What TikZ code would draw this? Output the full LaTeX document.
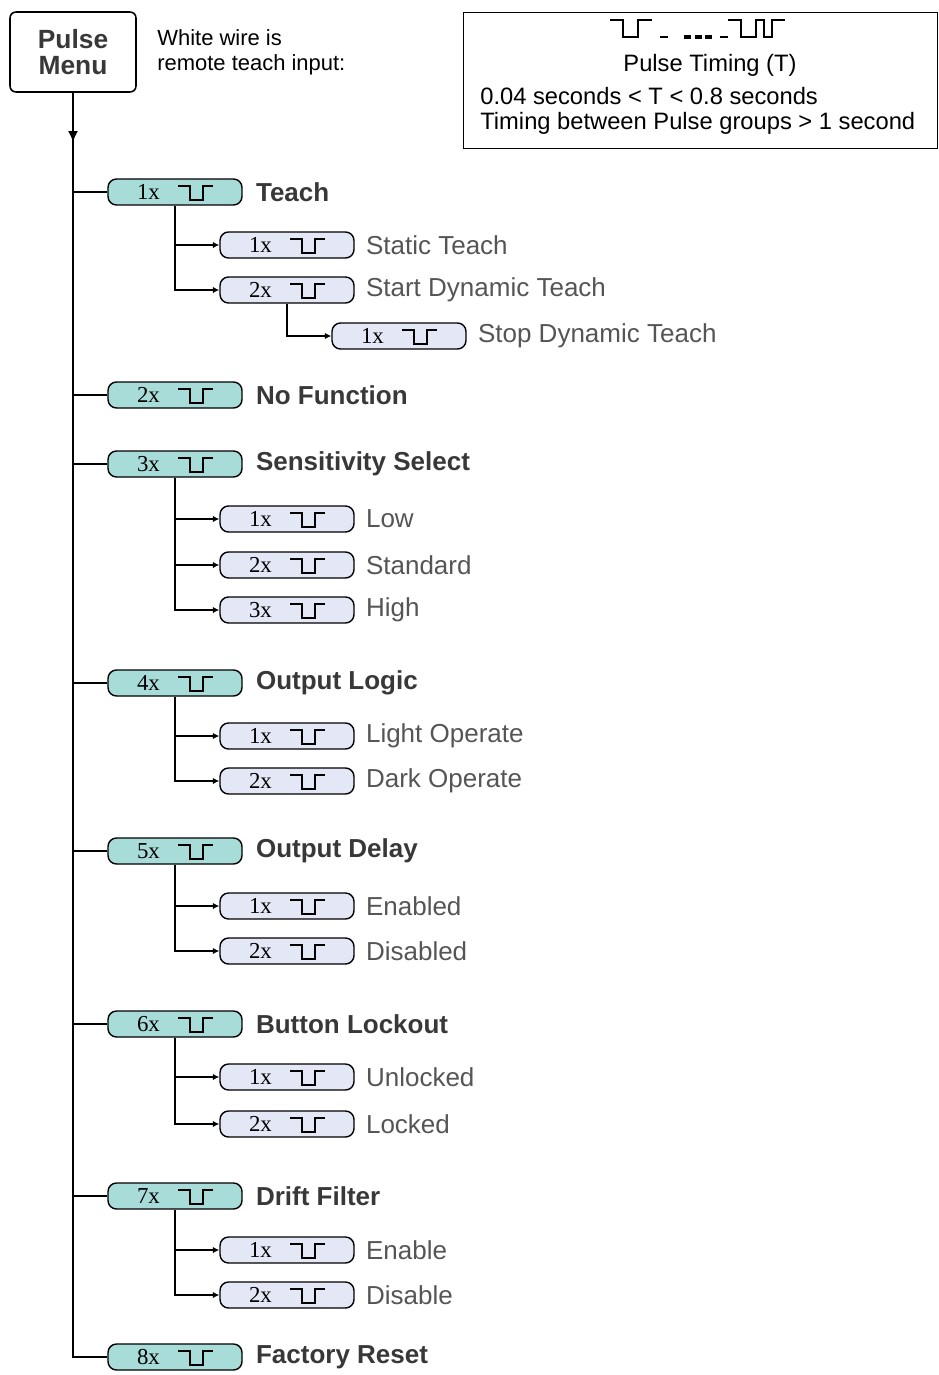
\documentclass[tikz,border=0pt]{standalone}
\usepackage{fontspec}
\setmainfont{Liberation Sans}
\newfontfamily\cntfont{Liberation Serif}
\usepackage{tikz}
\usetikzlibrary{positioning, arrows.meta, calc}
\usepackage{xcolor}
\definecolor{pillteal}{HTML}{A8DCD8}
\definecolor{pilllav}{HTML}{E4E8F6}
\definecolor{darkgray}{HTML}{383838}
\definecolor{midgray}{HTML}{555555}
\newcommand{\bigtxt}{\fontsize{14.8}{17}\selectfont}
\newcommand{\smalltxt}{\fontsize{13.5}{15.2}\selectfont}

\begin{document}
\begin{tikzpicture}[
  x=0.02cm, y=-0.02cm,
  wire/.style={line width=0.9pt},
  subwire/.style={line width=0.9pt, -{Latex[length=0.13cm, width=0.13cm]}},
  pill/.style={draw, line width=0.8pt, rounded corners=0.17cm,
               minimum width=2.68cm, minimum height=0.52cm,
               text width=1.52cm, inner xsep=0.58cm, inner ysep=0pt,
               align=left, font=\cntfont\fontsize{13}{13}\selectfont,
               path picture={
                 \draw[line width=0.8pt, sharp corners]
                   ($(path picture bounding box.center)+(3,-6)$)
                   -- ++(12,0) -- ++(0,14) -- ++(13,0) -- ++(0,-14) -- ++(10,0);
               }},
  top/.style={pill, fill=pillteal},
  sub/.style={pill, fill=pilllav},
  head/.style={inner sep=0pt, font=\bfseries\bigtxt, text=darkgray},
  item/.style={inner sep=0pt, font=\bigtxt, text=midgray},
]
  \useasboundingbox (0,0) rectangle (938,1375);

  % Menu box and note
  \node[draw, line width=0.9pt, rounded corners=0.12cm, minimum width=2.52cm,
        minimum height=1.6cm, align=center, font=\bfseries\fontsize{15}{14.8}\selectfont,
        text=darkgray] (menu) at (73,52) {Pulse\\Menu};
  \node[anchor=west, align=left, inner sep=0pt, font=\fontsize{12.5}{14.2}\selectfont]
    (note) at (157,52) {White wire is\\remote teach input:};

  % Timing box
  \node[draw, line width=0.8pt, anchor=north west, minimum width=9.48cm,
        minimum height=2.72cm, inner sep=0pt] (timing) at (463,12) {};
  \draw[line width=0.8pt] (610,20) -- (623,20) -- (623,37) -- (638,37) -- (638,20) -- (652,20);
  \draw[line width=0.8pt] (660,37) -- (668,37);
  \draw[line width=2pt, dash pattern=on 4pt off 2pt] (684,37) -- (712,37);
  \draw[line width=0.8pt] (720,37) -- (728,37);
  \draw[line width=0.8pt] (728,20) -- (741,20) -- (741,37) -- (756,37) -- (756,20)
    -- (764,20) -- (764,37) -- (772,37) -- (772,20) -- (785,20);
  \node[font=\smalltxt] (tname) at (710,65) {Pulse Timing (T)};
  \node[anchor=west, inner sep=0pt, font=\smalltxt] (trange) at (480,96)
    {0.04 seconds < T < 0.8 seconds};
  \node[anchor=west, inner sep=0pt, font=\smalltxt] (tgap) at (480,123)
    {Timing between Pulse groups > 1 second};

  % Teach
  \node[top] (teach) at (175,192) {1x};
  \node[head, right=0.26cm of teach] (teachl) {Teach};
  \node[sub] (static) at (287,245) {1x};
  \node[item, right=0.22cm of static] (staticl) {Static Teach};
  \node[sub] (dynon) at (287,290) {2x};
  \node[item, right=0.22cm of dynon] (dynonl) {Start Dynamic Teach};
  \node[sub] (dynoff) at (399,336) {1x};
  \node[item, right=0.22cm of dynoff] (dynoffl) {Stop Dynamic Teach};

  % No function
  \node[top] (nofn) at (175,395) {2x};
  \node[head, right=0.26cm of nofn] (nofnl) {No Function};

  % Sensitivity
  \node[top] (sens) at (175,464) {3x};
  \node[head, right=0.26cm of sens] (sensl) {Sensitivity Select};
  \node[sub] (low) at (287,519) {1x};
  \node[item, right=0.22cm of low] (lowl) {Low};
  \node[sub] (std) at (287,565) {2x};
  \node[item, right=0.22cm of std] (stdl) {Standard};
  \node[sub] (high) at (287,610) {3x};
  \node[item, right=0.22cm of high] (highl) {High};

  % Output logic
  \node[top] (logic) at (175,683) {4x};
  \node[head, right=0.26cm of logic] (logicl) {Output Logic};
  \node[sub] (light) at (287,736) {1x};
  \node[item, right=0.22cm of light] (lightl) {Light Operate};
  \node[sub] (dark) at (287,781) {2x};
  \node[item, right=0.22cm of dark] (darkl) {Dark Operate};

  % Output delay
  \node[top] (delay) at (175,851) {5x};
  \node[head, right=0.26cm of delay] (delayl) {Output Delay};
  \node[sub] (den) at (287,906) {1x};
  \node[item, right=0.22cm of den] (denl) {Enabled};
  \node[sub] (ddis) at (287,951) {2x};
  \node[item, right=0.22cm of ddis] (ddisl) {Disabled};

  % Button lockout
  \node[top] (lock) at (175,1024) {6x};
  \node[head, right=0.26cm of lock] (lockl) {Button Lockout};
  \node[sub] (unl) at (287,1077) {1x};
  \node[item, right=0.22cm of unl] (unll) {Unlocked};
  \node[sub] (lkd) at (287,1124) {2x};
  \node[item, right=0.22cm of lkd] (lkdl) {Locked};

  % Drift filter
  \node[top] (drift) at (175,1196) {7x};
  \node[head, right=0.26cm of drift] (driftl) {Drift Filter};
  \node[sub] (fen) at (287,1250) {1x};
  \node[item, right=0.22cm of fen] (fenl) {Enable};
  \node[sub] (fdis) at (287,1295) {2x};
  \node[item, right=0.22cm of fdis] (fdisl) {Disable};

  % Factory reset
  \node[top] (reset) at (175,1357) {8x};
  \node[head, right=0.26cm of reset] (resetl) {Factory Reset};

  % Main trunk
  \coordinate (tip) at (73,142);
  \draw[wire, -{Latex[length=0.22cm, width=0.2cm]}] (menu.south) -- (tip);
  \foreach \n in {teach, nofn, sens, logic, delay, lock, drift, reset}
    \draw[wire] (menu.south) |- (\n.west);

  % Branches
  \draw[subwire] (teach.south) |- (static.west);
  \draw[subwire] (teach.south) |- (dynon.west);
  \draw[subwire] (dynon.south) |- (dynoff.west);
  \draw[subwire] (sens.south) |- (low.west);
  \draw[subwire] (sens.south) |- (std.west);
  \draw[subwire] (sens.south) |- (high.west);
  \draw[subwire] (logic.south) |- (light.west);
  \draw[subwire] (logic.south) |- (dark.west);
  \draw[subwire] (delay.south) |- (den.west);
  \draw[subwire] (delay.south) |- (ddis.west);
  \draw[subwire] (lock.south) |- (unl.west);
  \draw[subwire] (lock.south) |- (lkd.west);
  \draw[subwire] (drift.south) |- (fen.west);
  \draw[subwire] (drift.south) |- (fdis.west);
\end{tikzpicture}
\end{document}
